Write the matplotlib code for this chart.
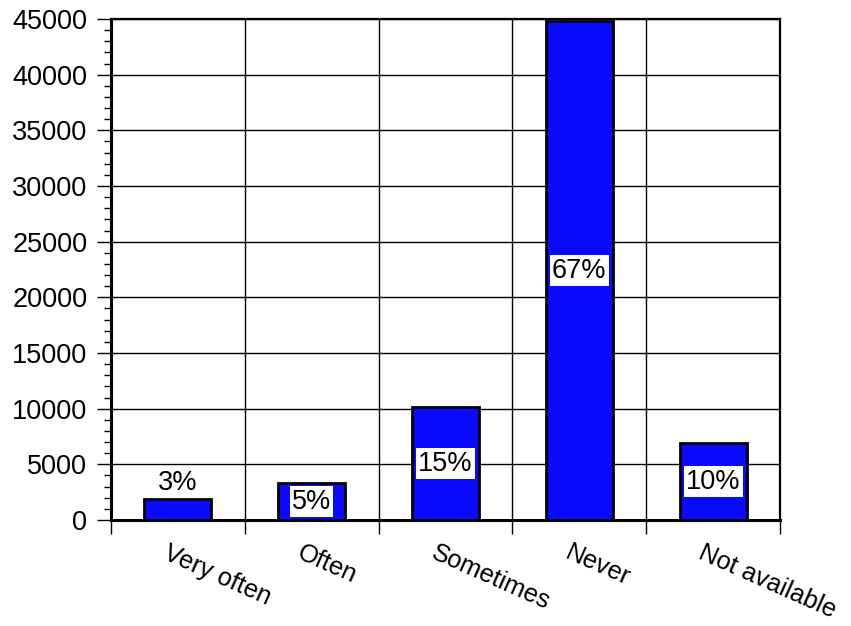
import matplotlib
matplotlib.use("Agg")
import matplotlib.pyplot as plt
import matplotlib.transforms as mtransforms
from matplotlib.ticker import MultipleLocator

# === Data ===
categories = ["Very often", "Often", "Sometimes", "Never", "Not available"]
counts = [1900, 3300, 10150, 44800, 6900]
pct_labels = ["3%", "5%", "15%", "67%", "10%"]

plt.rcParams["font.family"] = ["Liberation Sans", "DejaVu Sans"]

fig = plt.figure(figsize=(8.51, 6.26), dpi=100)
ax = fig.add_axes([0.1304, 0.1693, 0.7862, 0.8003])

xpos = [i + 0.5 for i in range(len(categories))]
bars = ax.bar(xpos, counts, width=0.5, color="#0a0aff", edgecolor="black",
              linewidth=2, zorder=3)

ax.set_xlim(0, len(categories))
ax.set_ylim(0, 45000)
ax.yaxis.set_major_locator(MultipleLocator(5000))
ax.yaxis.set_minor_locator(MultipleLocator(1000))
ax.set_xticks(range(len(categories) + 1))
ax.set_xticklabels([])

ax.grid(True, which="major", color="black", linewidth=1, zorder=0)
ax.tick_params(axis="y", which="major", length=10, width=1, labelsize=19.5, pad=7)
ax.tick_params(axis="y", which="minor", length=5, width=1)
ax.tick_params(axis="x", which="major", length=10, width=1)

for side in ["left", "bottom"]:
    ax.spines[side].set_linewidth(2.2)
for side in ["top", "right"]:
    ax.spines[side].set_linewidth(1.6)

# category labels, rotated
offset = mtransforms.ScaledTranslation(-8 / 100, -21 / 100, fig.dpi_scale_trans)
trans = ax.get_xaxis_transform() + offset
for x, name in zip(xpos, categories):
    ax.text(x, 0, name, transform=trans, rotation=-24, rotation_mode="anchor",
            ha="left", va="top", fontsize=18.3)

# percent labels
for x, c, lab in zip(xpos, counts, pct_labels):
    if c < 2500:
        ax.text(x, c + 300, lab, ha="center", va="bottom", fontsize=19.5, zorder=4)
    else:
        ax.text(x, c / 2, lab, ha="center", va="center", fontsize=19.5, zorder=4,
                bbox=dict(facecolor="white", edgecolor="none", pad=1.5))

plt.savefig("out.png", dpi=100)
plt.close()
